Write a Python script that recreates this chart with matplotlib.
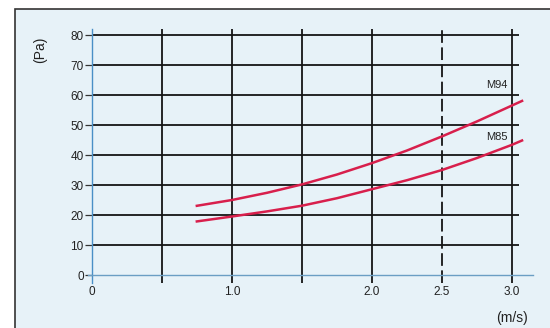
import matplotlib.pyplot as plt
from matplotlib.patches import Rectangle

# air speed (m/s) vs pressure drop (Pa)
speed = [0.74, 1.0, 1.25, 1.5, 1.75, 2.0, 2.25, 2.5, 2.75, 3.0, 3.08]
m94 = [23.0, 25.0, 27.4, 30.2, 33.5, 37.3, 41.5, 46.2, 51.2, 56.5, 58.2]
m85 = [17.8, 19.5, 21.2, 23.1, 25.6, 28.6, 31.6, 35.0, 39.0, 43.4, 45.0]

y_ticks = [0, 10, 20, 30, 40, 50, 60, 70, 80]
x_ticks = [0, 1.0, 2.0, 2.5, 3.0]
x_labels = ['0', '1.0', '2.0', '2.5', '3.0']
solid_x = [0.5, 1.0, 1.5, 2.0, 3.0]
dashed_x = [2.5]

plt.rcParams['font.family'] = ['Liberation Sans', 'DejaVu Sans']

W, H = 550, 328
fig = plt.figure(figsize=(W / 100, H / 100), dpi=100)
fig.patch.set_facecolor('white')

ax = fig.add_axes([0, 0, 1, 1])
ax.set_facecolor('none')
# map data to pixel positions: x=0 at 92px, 140px per m/s; y=0 at 275px, 3px per Pa
ax.set_xlim(-92 / 140, (W - 92) / 140)
ax.set_ylim((275 - H) / 3, 275 / 3)

# light blue panel with dark border (runs off right and bottom edges)
ax.add_patch(Rectangle((15 / W, -0.05), 1.1, 1 - 9 / H + 0.05,
                       transform=fig.transFigure, facecolor='#e7f2f8',
                       edgecolor='#333333', lw=1.2, zorder=0, clip_on=False))

grid_c = '#151515'
ax.hlines(y_ticks[1:], 0, 3.05, color=grid_c, lw=1.3, zorder=1)
ax.vlines(solid_x, -2.7, 82, color=grid_c, lw=1.3, zorder=1)
ax.vlines(dashed_x, -2.7, 82, color=grid_c, lw=1.3,
          linestyles=[(0, (7, 2.5))], zorder=1)

red = '#d81f4c'
ax.plot(speed, m94, color=red, lw=1.8, zorder=3, solid_capstyle='butt')
ax.plot(speed, m85, color=red, lw=1.8, zorder=3, solid_capstyle='butt')
ax.text(2.97, 63.3, 'M94', ha='right', va='center', fontsize=8, color='#222222')
ax.text(2.97, 46.1, 'M85', ha='right', va='center', fontsize=8, color='#222222')

for s in ['top', 'right']:
    ax.spines[s].set_visible(False)
ax.spines['left'].set_position(('data', 0))
ax.spines['bottom'].set_position(('data', 0))
ax.spines['left'].set_bounds(-2.5, 82)
ax.spines['bottom'].set_bounds(-0.03, 3.15)
ax.spines['left'].set_color('#4a8fc6')
ax.spines['bottom'].set_color('#6b9ec4')
ax.spines['left'].set_linewidth(1.0)
ax.spines['bottom'].set_linewidth(1.0)

ax.set_yticks(y_ticks)
ax.set_xticks(x_ticks)
ax.set_xticklabels(x_labels)
ax.tick_params(axis='y', length=5, width=0.9, color='#333333', pad=1,
               labelsize=8.5, labelcolor='#222222')
ax.tick_params(axis='x', length=0, pad=8, labelsize=8.5, labelcolor='#222222')

ax.text(-0.371, 75, '(Pa)', rotation=90, ha='center', va='center',
        fontsize=10, color='#222222')
ax.text(3.0, -14.3, '(m/s)', ha='center', va='center', fontsize=10,
        color='#222222')

plt.savefig('out.png', dpi=100)
